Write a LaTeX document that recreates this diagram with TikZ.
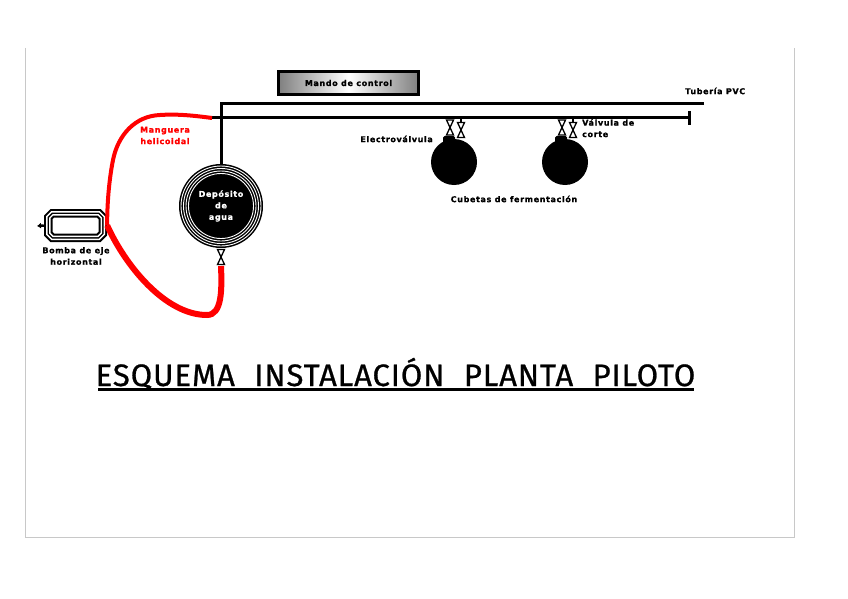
\documentclass[tikz,border=0pt]{standalone}
\usepackage{xcolor,fontspec}
\usetikzlibrary{arrows.meta,positioning}
\setmainfont[LetterSpace=8,BoldFeatures={FakeBold=1.2}]{DejaVu Sans}
\newfontfamily\titlefont[LetterSpace=3,FakeBold=0.8]{Fira Sans}
\definecolor{frameline}{RGB}{200,200,200}
\definecolor{hose}{RGB}{255,0,0}

\begin{document}
\begin{tikzpicture}[x=1pt,y=-1pt,>=Latex,
 lab/.style={font=\bfseries\fontsize{8}{11.5}\selectfont,align=center,inner sep=0pt},
 pipe/.style={line width=3pt},
 tank/.style={circle,fill=black,minimum size=46pt,inner sep=0pt},
 ring/.style={draw=white,line width=0.9pt},
 valvula/.pic={\draw[line width=1.3pt,fill=white] (-3.5,-7.5)--(3.5,7.5)--(-3.5,7.5)--(3.5,-7.5)--cycle;}]
\useasboundingbox (0,0) rectangle (848,599);
% marco
\draw[frameline,line width=1pt] (25,48)--(25,537)--(794,537)--(794,48);
% mando
\node[draw=black,line width=3pt,left color=gray,right color=gray,middle color=white,minimum width=140pt,minimum height=23pt,inner sep=0pt,lab] (mando) at (348.5,83) {Mando de control};
% tuberias
\coordinate (t1) at (221,103.5);
\coordinate (t2) at (704,103.5);
\coordinate (m1) at (212,118);
\coordinate (m2) at (689,118);
\node[circle,fill=black,minimum size=84pt,inner sep=0pt] (dep) at (221,206) {};
\draw[pipe] (t2)--(t1)--(dep.north);
\draw[pipe] (m1)--(m2);
\draw[pipe] (689,111)--(689,125);
\foreach \r in {32.5,35,37.5,40}
 \draw[ring] (dep.center) circle (\r);
\node[lab,text=white,align=center] at (dep.center) {Depósito\\de\\agua};
% bomba
\node[minimum width=63pt,minimum height=33pt,inner sep=0pt] (bomba) at (75.5,225.5) {};
\foreach \d/\col in {0/black,2/white,3.5/black,5/white,6.5/black,8.5/white}{
 \pgfmathsetmacro{\xx}{31.5-\d}
 \pgfmathsetmacro{\yy}{16.5-\d}
 \pgfmathsetmacro{\cc}{6.5-0.55*\d}
 \fill[\col] ([shift={(-\xx+\cc,-\yy)}]bomba.center)--([shift={(\xx-\cc,-\yy)}]bomba.center)
  --([shift={(\xx,-\yy+\cc)}]bomba.center)--([shift={(\xx,\yy-\cc)}]bomba.center)
  --([shift={(\xx-\cc,\yy)}]bomba.center)--([shift={(-\xx+\cc,\yy)}]bomba.center)
  --([shift={(-\xx,\yy-\cc)}]bomba.center)--([shift={(-\xx,-\yy+\cc)}]bomba.center)--cycle;
}
\coordinate (eje) at (37,226);
\draw[line width=2.5pt,{Latex[length=4pt,width=6pt]}-] (eje)--(bomba.west);
% valvula deposito
\pic at (221,257) {valvula};
\coordinate (v0) at (221,266);
% cubetas
\node[tank] (cub1) at (454,162) {};
\node[tank] (cub2) at (565,162) {};
\foreach \c/\x in {cub1/449,cub2/561}{
 \fill[rounded corners=1.5pt] (\x-6,136) rectangle (\x+6,144);
 \pic at (\x+1,127.5) {valvula};
 \draw[line width=2pt] (\x+12,118)--(\x+12,123);
 \pic at (\x+12,130) {valvula};
}
% manguera
\draw[hose,line width=4pt] (m1) .. controls (190,115) and (175,114) .. (160,115)
 .. controls (135,116) and (118,135) .. (113,160)
 .. controls (109,180) and (107,205) .. (bomba.east);
\draw[hose,line width=6pt] (bomba.east) .. controls (125,265) and (165,315) .. (207,315)
 .. controls (222,315) and (222,290) .. (v0);
% textos
\node[lab] at (76,256) {Bomba de eje\\horizontal};
\node[lab,text=hose] at (165,135.5) {Manguera\\helicoidal};
\node[lab,anchor=east] (ev) at (433,139) {Electroválvula};
\node[lab,anchor=north west,align=left] (vc) at (582,119) {Válvula de\\corte};
\node[lab,anchor=west] (pvc) at (685,91) {Tubería PVC};
\node[lab] (cub) at (514,199) {Cubetas de fermentación};
% titulo
\node[font=\titlefont\fontsize{31}{31}\selectfont,inner sep=0pt,anchor=base] (tit) at (395.5,386) {ESQUEMA\,\, INSTALACIÓN\,\, PLANTA\,\, PILOTO};
\draw[line width=3pt] (98,389.5)--(694,389.5);
\end{tikzpicture}
\end{document}
